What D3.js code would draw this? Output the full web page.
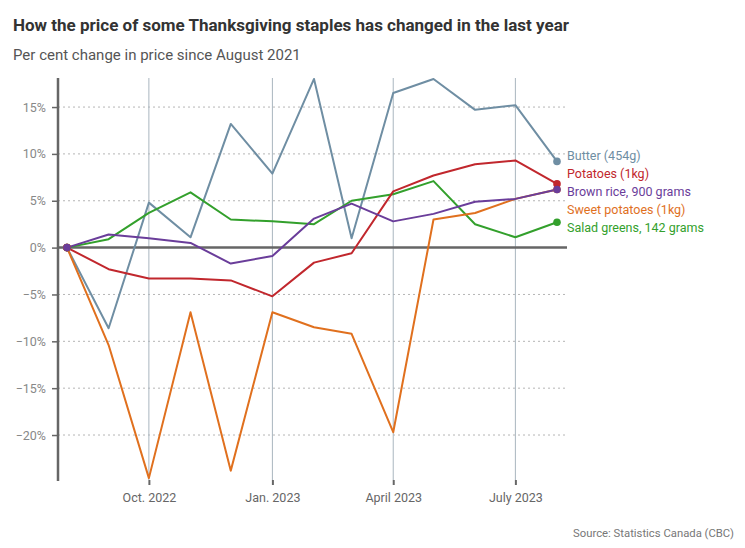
<!DOCTYPE html>
<html>
<head>
<meta charset="utf-8">
<script src="https://cdn.jsdelivr.net/npm/d3@7"></script>
<style>
  html, body { margin: 0; padding: 0; background: #fff; }
  svg { display: block; font-family: "Roboto", "Liberation Sans", sans-serif; }
</style>
</head>
<body>
<svg id="chart" width="745" height="548"></svg>
<script>
// ---- Data (per cent change in price since August 2021) ----
const months = ["2022-08", "2022-09", "2022-10", "2022-11", "2022-12", "2023-01", "2023-02",
                "2023-03", "2023-04", "2023-05", "2023-06", "2023-07", "2023-08"];
const butter        = [0, -8.6, 4.8, 1.1, 13.2, 7.9, 18.0, 1.0, 16.5, 18.0, 14.7, 15.2, 9.2];
const potatoes      = [0, -2.3, -3.3, -3.3, -3.5, -5.2, -1.6, -0.6, 6.0, 7.7, 8.9, 9.3, 6.8];
const brownRice     = [0, 1.4, 1.0, 0.5, -1.7, -0.9, 3.1, 4.7, 2.8, 3.6, 4.9, 5.2, 6.2];
const sweetPotatoes = [0, -10.4, -24.6, -6.9, -23.8, -6.9, -8.5, -9.2, -19.7, 3.0, 3.7, 5.2, 6.2];
const saladGreens   = [0, 0.9, 3.7, 5.9, 3.0, 2.8, 2.5, 5.0, 5.7, 7.1, 2.5, 1.1, 2.7];

const seriesNames  = ["Butter (454g)", "Potatoes (1kg)", "Brown rice, 900 grams", "Sweet potatoes (1kg)", "Salad greens, 142 grams"];
const seriesColors = ["#6f8ea3", "#c1272d", "#6a3d9a", "#e0701e", "#33a02c"];
const yTicks = [-20, -15, -10, -5, 0, 5, 10, 15];
const xTicks = ["2022-10", "2023-01", "2023-04", "2023-07"];
const xTickLabels = ["Oct. 2022", "Jan. 2023", "April 2023", "July 2023"];

const title = "How the price of some Thanksgiving staples has changed in the last year";
const subtitle = "Per cent change in price since August 2021";
const source = "Source: Statistics Canada (CBC)";

// ---- Layout ----
const svg = d3.select("#chart");
const parse = d3.timeParse("%Y-%m");
const dates = months.map(parse);

const x = d3.scaleTime().domain([dates[0], dates[dates.length - 1]]).range([67, 557]);
const y = d3.scaleLinear().domain([-24.8, 18.1]).range([480, 78]);
const xLeft = 58, xRight = 567;

// Title & subtitle
svg.append("text").attr("x", 13).attr("y", 31)
  .attr("font-size", 17).attr("font-weight", 700).attr("fill", "#333")
  .text(title);
svg.append("text").attr("x", 13).attr("y", 60)
  .attr("font-size", 15).attr("fill", "#555")
  .text(subtitle);

// Horizontal dotted gridlines
svg.append("g").selectAll("line").data(yTicks.filter(d => d !== 0)).join("line")
  .attr("x1", xLeft).attr("x2", xRight)
  .attr("y1", d => y(d)).attr("y2", d => y(d))
  .attr("stroke", "#b5b5b5").attr("stroke-width", 1).attr("stroke-dasharray", "2,3");

// Vertical gridlines
svg.append("g").selectAll("line").data(xTicks.map(parse)).join("line")
  .attr("x1", d => x(d)).attr("x2", d => x(d))
  .attr("y1", y.range()[1]).attr("y2", y.range()[0])
  .attr("stroke", "#a9b6bf").attr("stroke-width", 1);

// Y axis
const yAxis = d3.axisLeft(y).tickValues(yTicks).tickSize(6).tickPadding(6)
  .tickFormat(d => (d < 0 ? "\u2212" + Math.abs(d) : d) + "%");
const gy = svg.append("g").attr("transform", `translate(${xLeft},0)`).call(yAxis);
gy.select(".domain").remove();
gy.selectAll(".tick line").attr("stroke", "#666").attr("stroke-width", 1.5);
gy.selectAll(".tick text").attr("fill", "#888").attr("font-size", 12.5)
  .attr("font-family", "Roboto, sans-serif");
svg.append("line").attr("x1", xLeft).attr("x2", xLeft)
  .attr("y1", y.range()[1]).attr("y2", y.range()[0] + 1)
  .attr("stroke", "#666").attr("stroke-width", 2.5);

// X axis
const xAxis = d3.axisBottom(x).tickValues(xTicks.map(parse)).tickSize(5).tickPadding(8)
  .tickFormat((d, i) => xTickLabels[i]);
const gx = svg.append("g").attr("transform", `translate(0,${y.range()[0]})`).call(xAxis);
gx.select(".domain").remove();
gx.selectAll(".tick line").attr("stroke", "#666").attr("stroke-width", 2);
gx.selectAll(".tick text").attr("fill", "#666").attr("font-size", 12.5)
  .attr("font-family", "Roboto, sans-serif");

// Zero line
svg.append("line").attr("x1", xLeft).attr("x2", xRight)
  .attr("y1", y(0)).attr("y2", y(0))
  .attr("stroke", "#666").attr("stroke-width", 2.5);

// Series
const allSeries = [butter, potatoes, brownRice, sweetPotatoes, saladGreens];
const drawOrder = [0, 4, 3, 1, 2];
const line = d3.line().x((d, i) => x(dates[i])).y(d => y(d));

drawOrder.forEach(k => {
  const vals = allSeries[k];
  svg.append("path").datum(vals)
    .attr("d", line)
    .attr("fill", "none")
    .attr("stroke", seriesColors[k])
    .attr("stroke-width", 2)
    .attr("stroke-linejoin", "round");
});
drawOrder.forEach(k => {
  const vals = allSeries[k];
  const n = vals.length - 1;
  svg.append("circle").attr("cx", x(dates[0])).attr("cy", y(vals[0])).attr("r", 3.8).attr("fill", seriesColors[k]);
  svg.append("circle").attr("cx", x(dates[n])).attr("cy", y(vals[n])).attr("r", 3.8).attr("fill", seriesColors[k]);
});

// Labels
const labelY = [156, 174, 192, 210, 228];
seriesNames.forEach((name, k) => {
  svg.append("text").attr("x", 567).attr("y", labelY[k]).attr("dy", "0.35em")
    .attr("font-size", 12.5).attr("fill", seriesColors[k])
    .text(name);
});

// Source
svg.append("text").attr("x", 734).attr("y", 537).attr("text-anchor", "end")
  .attr("font-size", 11.3).attr("fill", "#777")
  .text(source);
</script>
</body>
</html>
